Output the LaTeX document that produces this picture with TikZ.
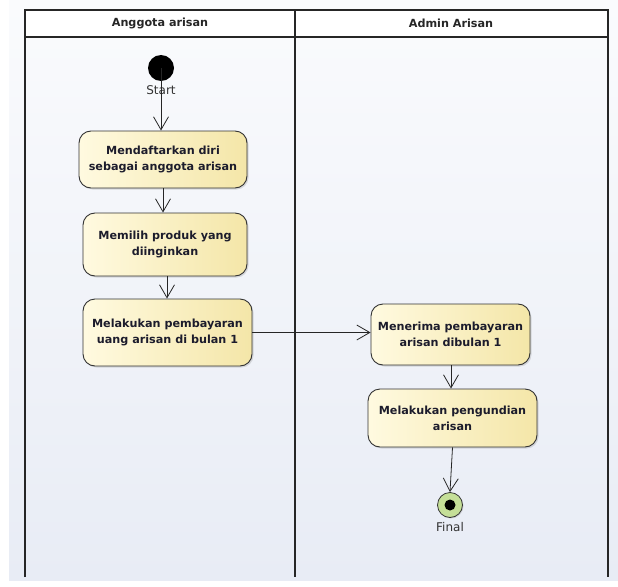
\documentclass[tikz,border=0pt]{standalone}
\usepackage{fontspec}
\setmainfont{DejaVu Sans}
\usetikzlibrary{arrows.meta,shadows}
\definecolor{bgtop}{HTML}{FAFBFD}
\definecolor{bgbot}{HTML}{E8ECF5}
\definecolor{boxl}{HTML}{FFFAE0}
\definecolor{boxr}{HTML}{F4E6A8}
\definecolor{finalg}{HTML}{C5DF98}
\definecolor{txt}{HTML}{1C1C2C}
\tikzset{
  act/.style={draw=black!80, line width=0.9pt, rounded corners=12pt, left color=boxl, right color=boxr,
    align=center, font=\bfseries\fontsize{11.2}{16}\selectfont, text=txt, inner sep=0pt,
    drop shadow={shadow xshift=1.5pt, shadow yshift=-1.5pt, opacity=0.25}},
  flow/.style={draw=black!85, line width=0.8pt, -{Straight Barb[length=13pt,width=15pt,line width=0.8pt]}},
  lane/.style={draw=black!85, line width=1.2pt},
  hdr/.style={font=\bfseries\fontsize{11.2}{13}\selectfont, text=black!85},
  lbl/.style={font=\fontsize{12}{13}\selectfont, text=black!80}
}
\begin{document}
\begin{tikzpicture}[x=1pt,y=-1pt]
\useasboundingbox (0,0) rectangle (618,586);
\shade[top color=bgtop, bottom color=bgbot] (9,0) rectangle (618,580);
% lanes
\fill[white] (25,10) rectangle (608,37);
\draw[lane] (25,577) -- (25,10) -- (608,10) -- (608,577);
\draw[lane] (295,10) -- (295,577);
\draw[lane] (25,37) -- (608,37);
\node[hdr] (h1) at (160,23) {Anggota arisan};
\node[hdr] (h2) at (451,23) {Admin Arisan};
% start
\node[circle, fill=black, minimum size=26pt, inner sep=0pt] (start) at (161,68) {};
\node[lbl] (startl) at (161,90) {Start};
% activities
\node[act, minimum width=168pt, minimum height=57pt] (a1) at (163,159.5) {Mendaftarkan diri\\sebagai anggota arisan};
\node[act, minimum width=164pt, minimum height=63pt] (a2) at (165,244.5) {Memilih produk yang\\diinginkan};
\node[act, minimum width=169pt, minimum height=67pt] (a3) at (167.5,332.5) {Melakukan pembayaran\\uang arisan di bulan 1};
\node[act, minimum width=159pt, minimum height=61pt] (a4) at (450.5,334.5) {Menerima pembayaran\\arisan dibulan 1};
\node[act, minimum width=169pt, minimum height=58pt] (a5) at (452.5,418) {Melakukan pengundian\\arisan};
% final
\node[circle, draw=black!80, line width=0.8pt, fill=finalg, minimum size=25pt, inner sep=0pt,
  drop shadow={shadow xshift=1pt, shadow yshift=-1pt, opacity=0.25}] (final) at (450,505) {};
\node[circle, fill=black, minimum size=11pt, inner sep=0pt] (finaldot) at (final) {};
\node[lbl] (finall) at (450,527) {Final};
% flows
\draw[flow] (start.center) -- (a1.north -| start);
\draw[flow] (a1.south -| 163,0) -- (a2.north -| 163,0);
\draw[flow] (a2.south -| 167,0) -- (a3.north -| 167,0);
\draw[flow] (a3.east) -- (a4.west |- a3.east);
\draw[flow] (a4.south -| 451,0) -- (a5.north -| 451,0);
\draw[flow] (a5.south) -- (final.north);
\end{tikzpicture}
\end{document}
